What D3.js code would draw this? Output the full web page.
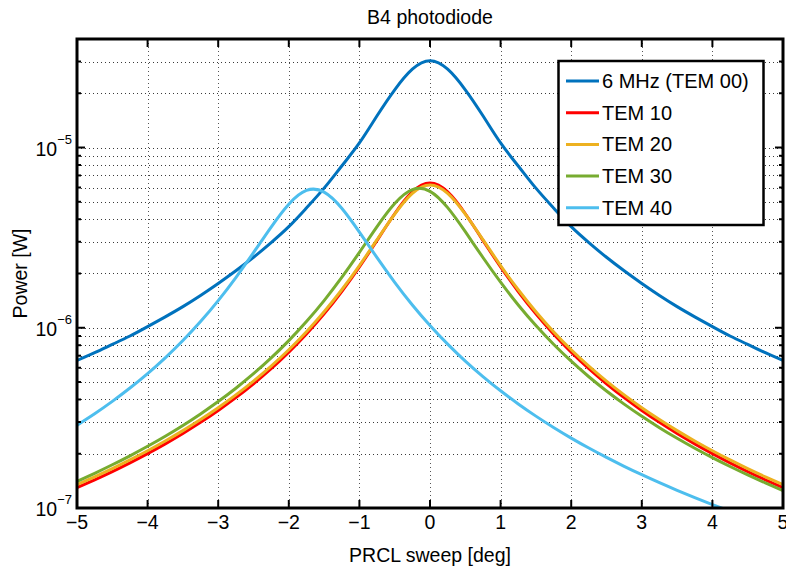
<!DOCTYPE html>
<html><head><meta charset="utf-8">
<script src="https://cdn.jsdelivr.net/npm/d3@7"></script>
<style>html,body{margin:0;padding:0;background:#fff;}svg{display:block;font-family:"Liberation Sans",Arial,Helvetica,sans-serif;}</style>
</head><body><svg id="c" width="786" height="569"></svg>
<script>
const xDeg = [-5,-4.75,-4.5,-4.25,-4,-3.75,-3.5,-3.25,-3,-2.75,-2.5,-2.25,-2,-1.75,-1.5,-1.25,-1,-0.75,-0.5,-0.25,0,0.25,0.5,0.75,1,1.25,1.5,1.75,2,2.25,2.5,2.75,3,3.25,3.5,3.75,4,4.25,4.5,4.75,5];
const tem00 = [6.58e-7,7.27e-7,8.08e-7,9.0e-7,1.015e-6,1.15e-6,1.31e-6,1.51e-6,1.76e-6,2.07e-6,2.46e-6,2.97e-6,3.64e-6,4.62e-6,5.95e-6,7.9e-6,1.06e-5,1.50e-5,2.09e-5,2.72e-5,3.03e-5,2.72e-5,2.09e-5,1.50e-5,1.06e-5,7.9e-6,5.95e-6,4.62e-6,3.64e-6,2.97e-6,2.46e-6,2.07e-6,1.76e-6,1.51e-6,1.31e-6,1.15e-6,1.015e-6,9.0e-7,8.08e-7,7.27e-7,6.58e-7];
const tem10 = [1.297e-7,1.434e-7,1.593e-7,1.781e-7,2.004e-7,2.27e-7,2.592e-7,2.987e-7,3.477e-7,4.094e-7,4.89e-7,5.93e-7,7.32e-7,9.24e-7,1.195e-6,1.589e-6,2.176e-6,3.054e-6,4.29e-6,5.67e-6,6.35e-6,5.67e-6,4.29e-6,3.054e-6,2.176e-6,1.589e-6,1.195e-6,9.24e-7,7.32e-7,5.93e-7,4.89e-7,4.094e-7,3.477e-7,2.987e-7,2.592e-7,2.27e-7,2.004e-7,1.781e-7,1.593e-7,1.434e-7,1.297e-7];
const tem20 = [1.347e-7,1.489e-7,1.654e-7,1.849e-7,2.078e-7,2.354e-7,2.687e-7,3.095e-7,3.60e-7,4.24e-7,5.06e-7,6.13e-7,7.55e-7,9.51e-7,1.227e-6,1.625e-6,2.213e-6,3.08e-6,4.27e-6,5.57e-6,6.2e-6,5.57e-6,4.27e-6,3.08e-6,2.213e-6,1.625e-6,1.227e-6,9.51e-7,7.55e-7,6.13e-7,5.06e-7,4.24e-7,3.60e-7,3.095e-7,2.687e-7,2.354e-7,2.078e-7,1.849e-7,1.654e-7,1.489e-7,1.347e-7];
const tem30 = [1.405e-7,1.558e-7,1.737e-7,1.948e-7,2.2e-7,2.502e-7,2.871e-7,3.326e-7,3.895e-7,4.619e-7,5.558e-7,6.799e-7,8.481e-7,1.082e-6,1.415e-6,1.902e-6,2.62e-6,3.641e-6,4.889e-6,5.838e-6,5.714e-6,4.638e-6,3.411e-6,2.453e-6,1.789e-6,1.338e-6,1.028e-6,8.1e-7,6.521e-7,5.349e-7,4.459e-7,3.771e-7,3.227e-7,2.791e-7,2.437e-7,2.146e-7,1.903e-7,1.699e-7,1.526e-7,1.378e-7,1.25e-7];
const tem40 = [2.878e-7,3.333e-7,3.904e-7,4.63e-7,5.568e-7,6.81e-7,8.491e-7,1.0825e-6,1.415e-6,1.9e-6,2.612e-6,3.622e-6,4.851e-6,5.78e-6,5.659e-6,4.604e-6,3.396e-6,2.448e-6,1.787e-6,1.338e-6,1.029e-6,8.11e-7,6.531e-7,5.359e-7,4.469e-7,3.779e-7,3.234e-7,2.798e-7,2.443e-7,2.151e-7,1.908e-7,1.703e-7,1.53e-7,1.381e-7,1.253e-7,1.142e-7,1.045e-7,9.6e-8,8.84e-8,8.18e-8,7.58e-8];
const seriesNames = ["6 MHz (TEM 00)","TEM 10","TEM 20","TEM 30","TEM 40"];
const seriesColors = ["#0072BD","#FF0000","#EDB120","#77AC30","#4DBEEE"];
const xTicks = [-5,-4,-3,-2,-1,0,1,2,3,4,5];
const yMajor = [1e-7,1e-6,1e-5];
const yExp = ["−7","−6","−5"];
const titleText = "B4 photodiode";
const xLabel = "PRCL sweep [deg]";
const yLabel = "Power [W]";

const allSeries = [tem00, tem10, tem20, tem30, tem40];
const L = 77, R = 783, T = 39, B = 508;
const svg = d3.select("#c");
const x = d3.scaleLinear().domain([-5,5]).range([L,R]);
const y = d3.scaleLog().domain([1e-7,4e-5]).range([B,T]);

const yMinor = [];
[1e-7,1e-6,1e-5].forEach(d => { for (let k=2;k<=9;k++){ const v=d*k; if (v<=4e-5) yMinor.push(v);} });

const grid = svg.append("g").attr("stroke","#3a3a3a").attr("stroke-width",1).attr("stroke-dasharray","1,3").attr("fill","none");
xTicks.filter(t=>t>-5&&t<5).forEach(t=>{
  grid.append("line").attr("x1",Math.round(x(t))+0.5).attr("x2",Math.round(x(t))+0.5).attr("y1",T).attr("y2",B).attr("stroke","#555");
});
yMinor.concat([1e-6,1e-5]).forEach(v=>{
  grid.append("line").attr("x1",L).attr("x2",R).attr("y1",Math.round(y(v))+0.5).attr("y2",Math.round(y(v))+0.5);
});

svg.append("defs").append("clipPath").attr("id","clip").append("rect").attr("x",L).attr("y",T).attr("width",R-L).attr("height",B-T);

const line = d3.line().x((d,i)=>x(xDeg[i])).y(d=>y(d)).curve(d3.curveNatural);
const curves = svg.append("g").attr("clip-path","url(#clip)");
allSeries.forEach((s,i)=>{
  curves.append("path").datum(s).attr("d",line).attr("fill","none").attr("stroke",seriesColors[i]).attr("stroke-width",3).attr("stroke-linejoin","round");
});

const tk = svg.append("g").attr("stroke","#000").attr("stroke-width",2);
xTicks.forEach(t=>{
  tk.append("line").attr("x1",x(t)).attr("x2",x(t)).attr("y1",B).attr("y2",B-8);
  tk.append("line").attr("x1",x(t)).attr("x2",x(t)).attr("y1",T).attr("y2",T+8);
});
yMajor.forEach(v=>{
  tk.append("line").attr("x1",L).attr("x2",L+8).attr("y1",y(v)).attr("y2",y(v));
  tk.append("line").attr("x1",R).attr("x2",R-8).attr("y1",y(v)).attr("y2",y(v));
});
yMinor.forEach(v=>{
  tk.append("line").attr("x1",L).attr("x2",L+4).attr("y1",y(v)).attr("y2",y(v));
  tk.append("line").attr("x1",R).attr("x2",R-4).attr("y1",y(v)).attr("y2",y(v));
});

svg.append("rect").attr("x",L).attr("y",T).attr("width",R-L).attr("height",B-T).attr("fill","none").attr("stroke","#000").attr("stroke-width",3);

const fs = 19.5;
xTicks.forEach(t=>{
  svg.append("text").attr("x",x(t)).attr("y",529).attr("text-anchor","middle").attr("font-size",fs).attr("fill","#000")
    .text(t<0 ? "−"+Math.abs(t) : String(t));
});
yMajor.forEach((v,i)=>{
  const tx = svg.append("text").attr("x",72).attr("y",y(v)+8).attr("text-anchor","end").attr("font-size",fs).attr("fill","#000");
  tx.append("tspan").text("10");
  tx.append("tspan").attr("font-size",13).attr("dy",-12).text(yExp[i]);
});

svg.append("text").attr("x",(L+R)/2).attr("y",24).attr("text-anchor","middle").attr("font-size",fs).text(titleText);
svg.append("text").attr("x",(L+R)/2).attr("y",562).attr("text-anchor","middle").attr("font-size",fs).text(xLabel);
svg.append("text").attr("transform",`translate(27,${(T+B)/2}) rotate(-90)`).attr("text-anchor","middle").attr("font-size",fs).text(yLabel);

const lg = svg.append("g");
lg.append("rect").attr("x",558.5).attr("y",61).attr("width",205).attr("height",164).attr("fill","#fff").attr("stroke","#000").attr("stroke-width",2.5);
seriesNames.forEach((n,i)=>{
  const yy = 81 + i*31.7;
  lg.append("line").attr("x1",566).attr("x2",599).attr("y1",yy).attr("y2",yy).attr("stroke",seriesColors[i]).attr("stroke-width",3);
  lg.append("text").attr("x",602).attr("y",yy+7).attr("font-size",20).text(n);
});
</script></body></html>
